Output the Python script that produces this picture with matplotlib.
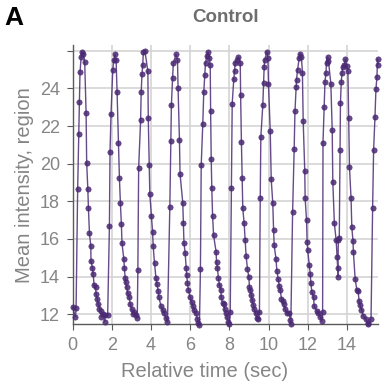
import matplotlib
matplotlib.use("Agg")
import matplotlib.pyplot as plt

plt.rcParams['font.family'] = ['Liberation Sans', 'DejaVu Sans']

# relative time (sec) and mean intensity
time_sec = [
    0.00, 0.15, 0.18, 0.26, 0.32, 0.35, 0.38, 0.44, 0.47, 0.55, 0.62, 0.69, 0.72,
    0.78, 0.81, 0.86, 0.93, 0.94, 1.01, 1.05, 1.10, 1.17, 1.20, 1.25, 1.32, 1.37,
    1.44, 1.47, 1.57, 1.64, 1.67, 1.79,
    1.88, 1.91, 1.96, 2.05, 2.10, 2.17, 2.22, 2.27, 2.34, 2.39, 2.44, 2.49, 2.52,
    2.61, 2.64, 2.68, 2.71, 2.76, 2.81, 2.89, 2.94, 3.01, 3.10, 3.15, 3.23, 3.30,
    3.33,
    3.37, 3.47, 3.50, 3.54, 3.58, 3.61, 3.69, 3.84, 3.86, 3.91, 3.94, 4.02, 4.08,
    4.11, 4.18, 4.25, 4.30, 4.37, 4.40, 4.51, 4.59, 4.67, 4.76, 4.84,
    4.96, 5.01, 5.04, 5.10, 5.14, 5.28, 5.35, 5.38, 5.45, 5.48, 5.62, 5.65, 5.68,
    5.74, 5.79, 5.82, 5.86, 5.91, 5.99, 6.08, 6.13, 6.20, 6.28, 6.37, 6.42, 6.47,
    6.52, 6.56, 6.64, 6.69, 6.74, 6.78, 6.85, 6.90, 6.97, 7.02, 7.04, 7.07, 7.10,
    7.14, 7.19, 7.32, 7.34, 7.39, 7.44, 7.49, 7.56, 7.58, 7.65, 7.70, 7.75, 7.82,
    7.87, 7.95, 8.00, 8.04,
    8.10, 8.14, 8.22, 8.26, 8.29, 8.38, 8.46, 8.55, 8.57, 8.61, 8.65, 8.68, 8.75,
    8.80, 8.85, 8.92, 8.99, 9.02, 9.06, 9.11, 9.16, 9.22, 9.26, 9.33, 9.40, 9.48,
    9.53,
    9.57, 9.60, 9.70, 9.74, 9.77, 9.79, 9.91, 9.96, 9.99, 10.08, 10.13, 10.21,
    10.25, 10.28, 10.37, 10.42, 10.49, 10.54, 10.59, 10.65, 10.71, 10.76, 10.83,
    10.91, 11.05, 11.10, 11.13,
    11.22, 11.30, 11.34, 11.40, 11.42, 11.47, 11.56, 11.60, 11.67, 11.72, 11.76,
    11.84, 11.86, 11.93, 11.96, 11.99, 12.07, 12.12, 12.15, 12.20, 12.29, 12.32,
    12.46, 12.54, 12.63, 12.70, 12.75,
    12.77, 12.83, 12.87, 12.92, 12.95, 13.00, 13.05, 13.17, 13.24, 13.27, 13.35,
    13.44, 13.49, 13.52, 13.53, 13.55, 13.60,
    13.64, 13.66, 13.70, 13.74, 13.77, 13.86, 13.91, 13.99, 14.04, 14.08, 14.12,
    14.20, 14.24, 14.30, 14.32, 14.41, 14.50, 14.56, 14.61, 14.66, 14.73, 14.83,
    14.96, 15.04, 15.09, 15.22,
    15.30, 15.35, 15.42, 15.47, 15.52, 15.55, 15.58,
]
intensity = [
    12.37, 11.86, 12.32, 18.63, 21.59, 23.30, 24.87, 25.67, 25.94, 25.85, 25.40, 22.70, 20.03,
    18.63, 17.62, 16.32, 15.62, 14.84, 14.48, 14.13, 13.54, 13.42, 13.10, 12.83, 12.53, 12.30,
    12.16, 11.86, 12.00, 11.61, 11.95, 11.95,
    16.70, 20.60, 22.62, 24.96, 25.50, 25.82, 25.50, 23.80, 21.10, 19.23, 17.89, 16.77, 15.79,
    14.96, 14.48, 13.93, 13.72, 13.42, 13.13, 12.89, 12.53, 12.30, 12.00, 12.12, 11.96, 11.82,
    14.34,
    19.77, 22.30, 23.80, 24.75, 25.26, 25.94, 25.99, 24.90, 22.44, 19.91, 18.38, 17.21, 16.38,
    15.62, 14.70, 13.95, 13.60, 13.24, 12.92, 12.43, 12.25, 12.07, 11.82, 11.59,
    17.71, 21.20, 23.10, 24.57, 25.37, 25.80, 25.50, 24.02, 21.27, 19.46, 17.92, 16.82, 15.81,
    15.26, 14.48, 14.07, 13.66, 13.28, 12.92, 12.65, 12.43, 12.21, 12.04, 11.77, 11.54, 11.41,
    14.38, 19.91, 22.12, 23.80, 24.70, 25.37, 25.72, 25.94, 25.62, 25.23, 22.78, 20.26, 18.69,
    17.23, 16.20, 15.31, 14.78, 14.43, 13.90, 13.54, 13.31, 12.89, 12.60, 12.53, 12.30, 12.07,
    11.86, 11.59, 11.50, 12.12,
    18.69, 23.18, 24.48, 24.91, 25.37, 25.50, 25.67, 25.37, 23.63, 21.15, 19.23, 17.62, 16.82,
    15.94, 15.09, 14.38, 13.98, 13.42, 13.31, 13.01, 12.74, 12.51, 12.30, 12.04, 11.82, 11.72,
    12.12,
    18.20, 21.41, 23.10, 24.30, 25.14, 25.50, 25.94, 25.62, 24.22, 21.72, 19.16, 17.89,
    16.47, 15.67, 14.96, 14.30, 13.85, 13.49, 13.28, 12.83, 12.71, 12.53, 12.30,
    12.04, 12.07, 11.68, 11.50,
    17.41, 20.80, 22.78, 24.07, 24.46, 24.96, 25.64, 25.85, 25.67, 24.84, 22.27,
    19.61, 18.15, 17.00, 15.85, 15.40, 14.61, 14.13, 13.66, 13.19, 12.92, 12.43,
    12.16, 12.07, 11.86, 11.64, 12.12,
    21.12, 23.01, 24.34, 24.82, 25.37, 25.67, 25.44, 24.25, 21.77, 19.04, 16.82,
    15.94, 15.05, 14.43, 13.98, 15.94, 16.03,
    20.70, 23.22, 24.34, 24.84, 25.14, 25.26, 25.55, 25.18, 24.91, 22.43, 19.82,
    18.15, 16.61, 15.88, 15.31, 13.85, 13.28, 13.22, 12.71, 12.48, 12.25, 11.89,
    11.77, 11.54, 11.47, 11.77,
    17.65, 20.70, 22.48, 23.98, 24.60, 25.55, 25.26,
]

x_ticks = [0, 2, 4, 6, 8, 10, 12, 14]
y_ticks = [12, 14, 16, 18, 20, 22, 24, 26]
y_tick_labels = ["12", "14", "16", "18", "20", "22", "24", ""]

grey = '#858585'

fig = plt.figure(figsize=(3.88, 3.92), dpi=100)
ax = fig.add_axes([0.187, 0.173, 0.787, 0.712])

ax.plot(time_sec, intensity, color='#4b2a74', lw=1.0, alpha=0.85,
        marker='o', markersize=3.8, markerfacecolor='#4b2a74',
        markeredgecolor='#4b2a74', markeredgewidth=0.5, clip_on=False, zorder=3)

ax.set_xlim(0, 15.57)
ax.set_ylim(11.47, 26.3)
ax.set_xticks(x_ticks)
ax.set_yticks(y_ticks)
ax.set_yticklabels(y_tick_labels)

ax.grid(True, color='#d4d4d4', lw=1.2)
ax.set_axisbelow(True)
for side in ['top', 'right']:
    ax.spines[side].set_visible(False)
for side in ['left', 'bottom']:
    ax.spines[side].set_color('#5a5a5a')
    ax.spines[side].set_linewidth(1.0)
ax.tick_params(colors='#5a5a5a', labelcolor=grey, labelsize=13, length=4, width=0.8)
ax.tick_params(axis='x', pad=5)
ax.tick_params(axis='y', pad=5)

ax.set_xlabel("Relative time (sec)", fontsize=14.5, color=grey, labelpad=3)
ax.xaxis.set_label_coords(0.432, -0.135)
ax.set_ylabel("Mean intensity, region", fontsize=14.5, color=grey, labelpad=4)

fig.text(0.582, 0.955, "Control", fontsize=13.5, fontweight='bold', color='#6e6e6e',
         ha='center', va='center')
fig.text(0.012, 0.953, "A", fontsize=19, fontweight='bold', color='black',
         ha='left', va='center')

fig.savefig("out.png", dpi=100)
